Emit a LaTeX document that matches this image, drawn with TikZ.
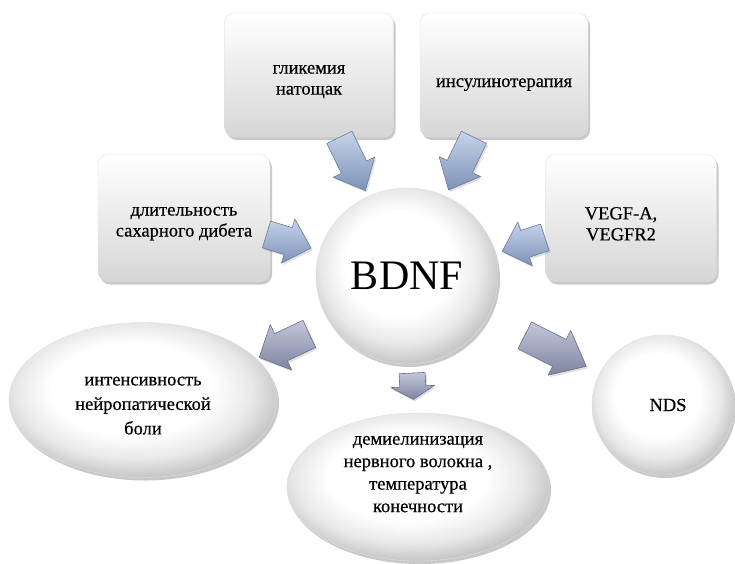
\documentclass[tikz,border=0pt]{standalone}
\usepackage{fontspec}
\setmainfont{Liberation Serif}
\newfontfamily\lblfont{Liberation Serif}[FakeBold=0.5]
\usetikzlibrary{calc,shadows,shapes.geometric}
\definecolor{arrlight}{HTML}{C6D4EA}
\definecolor{arrdark}{HTML}{7D92B8}
\definecolor{arredge}{HTML}{6B7C9E}
\definecolor{arrlightb}{HTML}{C4C7DA}
\definecolor{arrdarkb}{HTML}{7E84A2}
\definecolor{arredgeb}{HTML}{6A6F8C}
\definecolor{boxlow}{HTML}{D6D6D6}
\pgfdeclareradialshading{softball}{\pgfpoint{-3bp}{5bp}}{color(0bp)=(white); color(15bp)=(white); color(22bp)=(black!9); color(27bp)=(black!22); color(50bp)=(black!22)}
\newcommand\dn[1]{\rule{0pt}{#1}}
\newcommand\up[1]{\rule[-#1]{0pt}{0pt}}
\newcommand\blockarr[6][]{%
  \coordinate (bah) at ($(#3)!#6!(#2)$);
  \path[#1] ($(#2)!#4!90:(#3)$) -- ($(bah)!#4!90:(#3)$) -- ($(bah)!#5!90:(#3)$) -- (#3)
    -- ($(bah)!#5!-90:(#3)$) -- ($(bah)!#4!-90:(#3)$) -- ($(#2)!#4!-90:(#3)$) -- cycle;
}
\begin{document}
\begin{tikzpicture}[x=1pt,y=-1pt,
  softshadow/.style={drop shadow={shadow xshift=2pt,shadow yshift=-3pt,opacity=0.3,fill=black!70}},
  cbox/.style={rectangle,rounded corners=10pt,top color=white,bottom color=boxlow,
    draw=black!12,softshadow,align=center,inner sep=2pt,
    font=\lblfont\fontsize{18.5}{21}\selectfont},
  cell/.style={ellipse,inner sep=0pt,shading=softball,
    draw=black!12,softshadow,align=center,font=\lblfont\fontsize{18.5}{22.5}\selectfont},
  barrow/.style={top color=arrlight,bottom color=arrdark,draw=arredge,line width=0.6pt,
    line join=round,drop shadow={shadow xshift=1.5pt,shadow yshift=-2pt,opacity=0.25}},
  barrowb/.style={top color=arrlightb,bottom color=arrdarkb,draw=arredgeb,line width=0.6pt,
    line join=round,drop shadow={shadow xshift=1.5pt,shadow yshift=-2pt,opacity=0.25}}]
\fill[white] (0,0) rectangle (735,563);
\useasboundingbox (0,0) rectangle (735,563);

\node[cbox,minimum width=169pt,minimum height=124pt] (gly) at (309,75) {\dn{22pt}гликемия\\натощак};
\node[cbox,minimum width=168pt,minimum height=124pt] (ins) at (504,75) {\dn{28pt}инсулинотерапия};
\node[cbox,minimum width=172pt,minimum height=127pt] (dur) at (184,218) {\dn{20pt}длительность\\сахарного дибета};
\node[cbox,minimum width=171pt,minimum height=127pt] (vegf) at (631,218) {\dn{24pt}VEGF-A,\hspace*{20pt}\\VEGFR2\hspace*{20pt}};

\node[cell,minimum width=182pt,minimum height=176pt,font=\fontsize{42}{48}\selectfont] (bdnf) at (407,276) {BDNF};
\node[cell,minimum width=268pt,minimum height=155pt,font=\lblfont\fontsize{18.5}{24.5}\selectfont] (pain) at (143,400) {\dn{20pt}интенсивность\\нейропатической\\боли};
\node[cell,minimum width=262pt,minimum height=148pt] (dem) at (418,487) {демиелинизация\\нервного волокна ,\\температура\\конечности\up{26pt}};
\node[cell,minimum width=142pt,minimum height=140pt] (nds) at (663,405) {\hspace*{10pt}NDS};

\coordinate (a1t) at ($(gly.center)!0.31!(bdnf.center)$);
\coordinate (a1h) at ($(gly.center)!0.575!(bdnf.center)$);
\coordinate (a2t) at ($(ins.center)!0.31!(bdnf.center)$);
\coordinate (a2h) at ($(ins.center)!0.572!(bdnf.center)$);
\coordinate (a3t) at ($(dur.center)!0.37!(bdnf.center)+(0,-5)$);
\coordinate (a3h) at ($(dur.center)!0.57!(bdnf.center)+(0,-3)$);
\coordinate (a4t) at ($(vegf.center)!0.385!(bdnf.center)+(0,-3)$);
\coordinate (a4h) at ($(vegf.center)!0.575!(bdnf.center)$);
\coordinate (a5t) at ($(bdnf.center)!0.37!(pain.center)+(0,12)$);
\coordinate (a5h) at ($(bdnf.center)!0.56!(pain.center)+(0,12)$);
\coordinate (a6t) at ($(bdnf.center)!0.46!(dem.center)$);
\coordinate (a6h) at ($(bdnf.center)!0.585!(dem.center)$);
\coordinate (a7t) at ($(bdnf.center)!0.46!(nds.center)$);
\coordinate (a7h) at ($(bdnf.center)!0.70!(nds.center)$);

\blockarr[barrow]{a1t}{a1h}{14pt}{23pt}{26pt}
\blockarr[barrow]{a2t}{a2h}{14pt}{23pt}{26pt}
\blockarr[barrow]{a3t}{a3h}{14pt}{23pt}{24pt}
\blockarr[barrow]{a4t}{a4h}{14pt}{23pt}{24pt}
\blockarr[barrowb]{a5t}{a5h}{15pt}{25pt}{24pt}
\blockarr[barrowb]{a6t}{a6h}{13pt}{22pt}{13pt}
\blockarr[barrowb]{a7t}{a7h}{15pt}{25pt}{30pt}
\end{tikzpicture}
\end{document}
